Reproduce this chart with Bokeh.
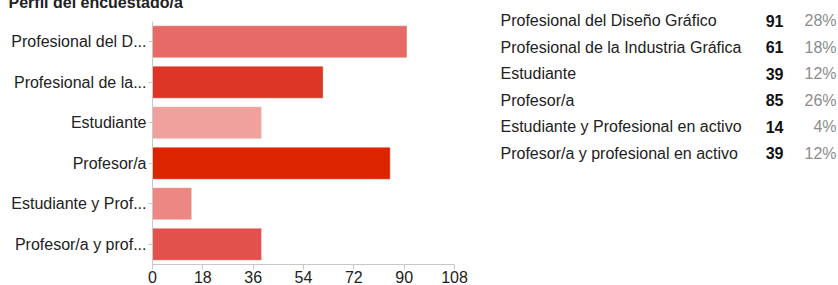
from bokeh.plotting import figure
from bokeh.models import Range1d, FixedTicker, ColumnDataSource
from bokeh.core.properties import value
from bokeh.embed import file_html
from bokeh.resources import INLINE

# ---- data ----
title_text = "Perfil del encuestado/a"
categories = [
    "Profesional del Diseño Gráfico",
    "Profesional de la Industria Gráfica",
    "Estudiante",
    "Profesor/a",
    "Estudiante y Profesional en activo",
    "Profesor/a y profesional en activo",
]
short_labels = [
    "Profesional del D...",
    "Profesional de la...",
    "Estudiante",
    "Profesor/a",
    "Estudiante y Prof...",
    "Profesor/a y prof...",
]
counts = [91, 61, 39, 85, 14, 39]
percents = ["28%", "18%", "12%", "26%", "4%", "12%"]
bar_colors = ["#e66b66", "#de3626", "#f0a19e", "#dc2400", "#ec8783", "#e2514b"]
x_ticks = [0, 18, 36, 54, 72, 90, 108]

FONT = "Liberation Sans"
FS = "16px"

# ---- layout constants (page pixels) ----
W, H = 838, 285
SHIFT = 10                 # canvas is pulled up by this many px (title is cut at the top)
AX_L, AX_R = 152, 454      # x-axis from 0 to 108
BAR_T, AX_B = 21, 265      # category bands span
FR_T = 10                  # frame top (page px)
FR_R = W                   # frame reaches the right edge (table lives inside it)
ROW0, PITCH = 20.5, 26.6   # table rows

n = len(categories)
rows = list(range(n))
xmax = x_ticks[-1]
band = (AX_B - BAR_T) / n
x_end = xmax * (FR_R - AX_L) / (AX_R - AX_L)
y_top = (FR_T - BAR_T) / band - 0.5
y_bot = n - 0.5
r_top = (FR_T - ROW0) / PITCH
r_bot = (AX_B - ROW0) / PITCH

p = figure(width=W, height=H + SHIFT, output_backend="svg", toolbar_location=None,
           x_range=Range1d(0, x_end), y_range=Range1d(y_bot, y_top),
           min_border_left=AX_L, min_border_right=W - FR_R,
           min_border_top=FR_T + SHIFT, min_border_bottom=H - AX_B,
           styles={"margin-top": f"-{SHIFT}px"})
p.outline_line_color = None
p.xgrid.visible = False
p.ygrid.visible = False

# title (partly cut by the top edge, as in the reference)
p.title.text = title_text
p.title.text_font = FONT
p.title.text_font_size = FS
p.title.text_font_style = "bold"
p.title.text_color = "#222222"
p.title.align = "left"
p.title.offset = 8 - AX_L
p.title.standoff = 0
p.title.vertical_align = "bottom"

src = ColumnDataSource(dict(row=rows, val=counts, color=bar_colors))
p.hbar(y="row", right="val", left=0, height=0.79, fill_color="color",
       line_color="white", line_alpha=0.35, line_width=1, source=src)

xa = p.xaxis[0]
xa.ticker = FixedTicker(ticks=x_ticks)
xa.bounds = (0, xmax)
xa.axis_line_color = "#c8c8c8"
xa.major_tick_line_color = "#c8c8c8"
xa.major_tick_in = 0
xa.major_tick_out = 5
xa.minor_tick_out = 0
xa.minor_tick_in = 0
xa.major_label_standoff = 1
xa.major_label_text_font = FONT
xa.major_label_text_font_size = FS
xa.major_label_text_color = "#222222"

ya = p.yaxis[0]
ya.ticker = FixedTicker(ticks=rows)
ya.bounds = (-0.5, n - 0.5)
ya.major_label_overrides = {r: s for r, s in zip(rows, short_labels)}
ya.axis_line_color = "#c8c8c8"
ya.major_tick_line_color = "#c8c8c8"
ya.major_tick_in = 0
ya.major_tick_out = 4
ya.minor_tick_out = 0
ya.minor_tick_in = 0
ya.major_label_standoff = 2
ya.major_label_text_font = FONT
ya.major_label_text_font_size = FS
ya.major_label_text_color = "#222222"

# ---- summary table (inside the frame, right of the bars) ----
p.extra_x_ranges = {"px": Range1d(AX_L, FR_R)}
p.extra_y_ranges = {"rows": Range1d(r_bot, r_top)}

tsrc = ColumnDataSource(dict(row=rows, cat=categories,
                             cnt=[str(c) for c in counts], pct=percents))
common = dict(y="row", source=tsrc, x_range_name="px", y_range_name="rows",
              text_font=value(FONT), text_font_size=FS, text_baseline="middle")
p.text(x=500, text="cat", text_color="#222222", text_align="left", **common)
p.text(x=783, text="cnt", text_color="#111111", text_font_style="bold",
       text_align="right", **common)
p.text(x=836, text="pct", text_color="#8c8c8c", text_align="right", **common)

open("out.html", "w").write(file_html(p, INLINE))
